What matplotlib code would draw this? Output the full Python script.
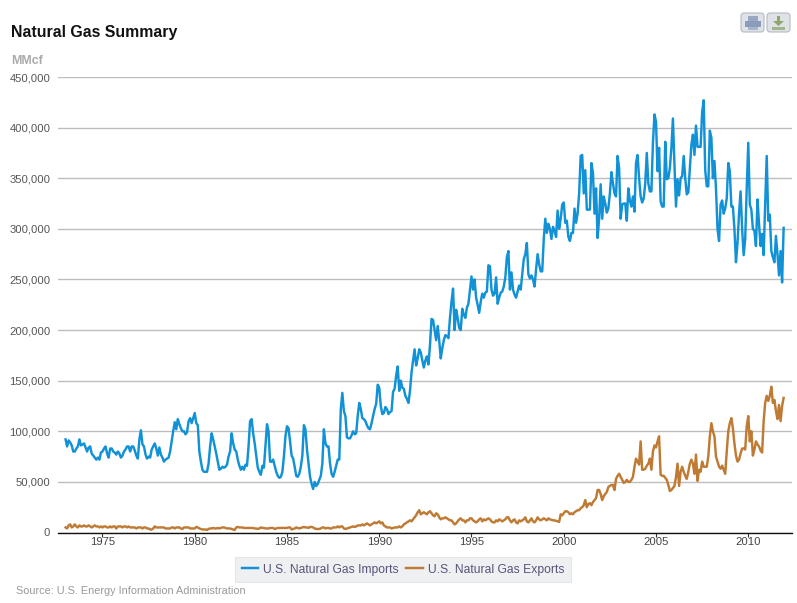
import numpy as np
import matplotlib
matplotlib.use("Agg")
import matplotlib.pyplot as plt
from matplotlib.patches import FancyBboxPatch, Rectangle

plt.rcParams['font.family'] = ['Liberation Sans', 'DejaVu Sans']

# monthly values, thousand MMcf, Jan 1973 - Dec 2011
imports = [
    92, 85, 91, 89, 86, 80, 80, 83, 85, 92, 86, 87,
    88, 84, 80, 84, 85, 78, 76, 74, 72, 74, 72, 79,
    80, 83, 85, 78, 74, 83, 83, 80, 79, 77, 80, 78,
    74, 76, 80, 82, 85, 85, 80, 85, 85, 81, 76, 73,
    92, 101, 87, 85, 77, 73, 75, 74, 82, 85, 88, 83,
    76, 84, 77, 74, 70, 72, 73, 74, 80, 90, 100, 109,
    102, 112, 107, 103, 100, 100, 97, 99, 110, 113, 108, 113,
    118, 108, 106, 80, 70, 62, 60, 60, 60, 68, 85, 98,
    92, 85, 78, 70, 62, 63, 65, 64, 65, 67, 75, 80,
    98, 88, 82, 80, 72, 66, 62, 65, 62, 67, 66, 85,
    110, 112, 98, 88, 76, 64, 60, 57, 66, 64, 85, 107,
    100, 70, 70, 72, 66, 60, 56, 54, 55, 60, 75, 95,
    105, 103, 90, 76, 73, 65, 56, 55, 58, 65, 76, 106,
    102, 82, 68, 55, 48, 43, 50, 46, 48, 52, 56, 68,
    102, 88, 85, 85, 68, 58, 55, 60, 66, 72, 72, 122,
    138, 120, 115, 94, 93, 93, 96, 100, 97, 98, 115, 128,
    122, 113, 112, 110, 106, 103, 102, 108, 115, 122, 127, 146,
    143, 125, 117, 118, 124, 122, 117, 119, 120, 139, 142, 155,
    164, 140, 150, 143, 142, 135, 132, 128, 140, 158, 170, 181,
    165, 172, 181, 178, 170, 163, 170, 174, 166, 185, 211, 210,
    200, 190, 204, 190, 172, 182, 190, 195, 194, 192, 212, 228,
    241, 200, 220, 212, 202, 200, 221, 215, 212, 222, 226, 240,
    253, 240, 250, 232, 225, 217, 228, 236, 232, 237, 238, 264,
    263, 240, 234, 236, 252, 226, 232, 237, 238, 243, 252, 272,
    278, 240, 257, 240, 235, 232, 238, 244, 240, 255, 270, 275,
    286, 255, 251, 254, 250, 243, 260, 275, 265, 258, 258, 290,
    310, 296, 305, 300, 290, 302, 298, 292, 318, 300, 310, 324,
    326, 306, 308, 292, 288, 296, 296, 320, 306, 315, 335, 372,
    373, 335, 358, 319, 319, 319, 365, 355, 315, 340, 291, 310,
    344, 310, 332, 325, 316, 320, 335, 356, 345, 335, 332, 372,
    360, 310, 324, 325, 325, 308, 340, 328, 322, 332, 317, 365,
    373, 350, 332, 326, 330, 345, 375, 345, 337, 337, 385, 413,
    406, 357, 380, 327, 322, 322, 386, 349, 350, 360, 380, 409,
    363, 322, 349, 333, 350, 352, 372, 350, 334, 336, 360, 383,
    393, 373, 402, 381, 381, 381, 415, 427, 358, 342, 342, 397,
    390, 350, 367, 340, 300, 288, 324, 328, 315, 320, 330, 365,
    357, 322, 322, 300, 267, 286, 315, 337, 300, 274, 290, 340,
    385, 324, 319, 300, 298, 283, 329, 305, 283, 295, 274, 325,
    372, 308, 314, 278, 272, 267, 293, 275, 254, 278, 247, 301,
]
exports = [
    5, 4, 7, 8, 5, 6, 8, 6, 5, 7, 6, 6,
    7, 6, 6, 7, 6, 5, 6, 7, 6, 6, 5, 6,
    5, 6, 6, 5, 5, 6, 5, 6, 6, 4, 6, 6,
    6, 5, 6, 6, 5, 6, 5, 5, 5, 5, 4, 5,
    5, 5, 4, 5, 5, 4, 4, 3, 3, 4, 6, 5,
    5, 5, 5, 5, 5, 4, 4, 4, 4, 5, 5, 4,
    5, 5, 5, 4, 3.5, 5, 5, 5, 5, 4, 4, 4,
    4, 5.5, 5, 4, 3.5, 3, 3, 3, 2.5, 3.5, 4, 4,
    4.5, 4, 4, 4.5, 4, 4.5, 5, 5, 4.5, 4, 4, 4,
    3.5, 3, 2.5, 5, 5.5, 5, 5, 5, 4.5, 4.5, 4.5, 4.5,
    4.5, 4.5, 4.5, 4, 4, 3.5, 4, 5, 4.5, 4.5, 4, 4,
    4, 4.5, 4.5, 4.5, 3.5, 4, 4.5, 4.5, 4.5, 4.5, 4.5, 4.5,
    4.5, 5, 5, 3, 3.5, 4, 5, 4.5, 4, 4.5, 5, 5.5,
    5, 5, 4.5, 5.5, 5.5, 5, 4, 3.5, 3.5, 3.5, 4, 5,
    5, 4, 4.5, 4.5, 4, 4, 5, 5, 5, 6, 5, 6,
    6, 4, 3.5, 4, 4.5, 5, 5.5, 6, 5.5, 6, 7, 7,
    7, 8, 7, 8, 9, 8, 7, 8, 9, 10, 9, 10,
    11, 9, 10, 7, 6, 5, 5, 5, 4, 4.5, 5, 5,
    5, 6, 5, 6, 8, 9, 10, 11, 12, 11, 13, 15,
    17, 20, 22, 18, 19, 20, 19, 18, 20, 21, 19, 17,
    16, 19, 18, 15, 13, 14, 14, 15, 14, 13, 12, 12,
    10, 8, 9, 11, 13, 14, 12, 12, 10, 12, 12, 14,
    14, 12, 11, 10, 11, 13, 14, 11, 13, 12, 13, 14,
    13, 11, 10, 10, 12, 11, 13, 12, 11, 12, 13, 15,
    15, 12, 10, 12, 13, 10, 9, 12, 11, 12, 13, 15,
    11, 10, 12, 14, 11, 10, 12, 15, 13, 12, 13, 14,
    13, 12, 14, 13, 12.5, 12, 12, 11.5, 11, 10.5, 18, 17,
    19, 21, 21, 20, 18, 19, 18, 20, 21, 22, 22, 24,
    25, 27, 32, 25, 28, 29, 27, 30, 32, 34, 42, 42,
    38, 32, 36, 38, 40, 45, 46, 47, 47, 42, 53, 56,
    58, 55, 52, 49, 50, 52, 50, 50, 52, 55, 65, 73,
    70, 67, 90, 62, 62, 63, 66, 68, 73, 62, 80, 86,
    84, 90, 95, 57, 56, 56, 54, 52, 47, 41, 42, 44,
    46, 55, 68, 46, 60, 65, 60, 56, 53, 60, 68, 72,
    68, 58, 77, 51, 62, 60, 70, 65, 65, 65, 75, 95,
    108, 100, 95, 75, 70, 65, 63, 66, 62, 58, 80, 100,
    108, 113, 103, 88, 76, 70, 72, 78, 83, 83, 82, 105,
    115, 90, 100, 76, 82, 90, 87, 85, 81, 79, 110, 128,
    135, 130, 135, 144, 128, 131, 120, 112, 126, 110, 125, 133,
]
year_ticks = [1975, 1980, 1985, 1990, 1995, 2000, 2005, 2010]
value_ticks = [0, 50000, 100000, 150000, 200000, 250000, 300000, 350000, 400000, 450000]

W, H = 797, 603
fig = plt.figure(figsize=(W / 100, H / 100), dpi=100, facecolor="white")
ax = fig.add_axes([58 / W, 1 - 532.5 / H, (792 - 58) / W, (532.5 - 77) / H])

t = 1973 + np.arange(len(imports)) / 12
line_imp, = ax.plot(t, np.array(imports) * 1000, color="#1192d6", lw=1.75, solid_joinstyle="round",
                    label="U.S. Natural Gas Imports", zorder=3, clip_on=False)
line_exp, = ax.plot(t, np.array(exports) * 1000, color="#bf7a33", lw=1.75, solid_joinstyle="round",
                    label="U.S. Natural Gas Exports", zorder=4, clip_on=False)

ax.set_xlim(1972.59, 2012.37)
ax.set_ylim(0, 450000)
ax.set_xticks(year_ticks)
ax.set_yticks(value_ticks)
ax.set_yticklabels([f"{v:,}" for v in value_ticks])
ax.grid(axis="y", color="#bdbdbd", lw=1)
ax.set_axisbelow(True)
for side in ["top", "right", "left"]:
    ax.spines[side].set_visible(False)
ax.spines["bottom"].set_color("#111111")
ax.spines["bottom"].set_linewidth(1)
ax.tick_params(axis="y", length=0, pad=5.5, labelsize=8.1, labelcolor="#555555")
ax.tick_params(axis="x", length=3, width=0.8, color="#333333", pad=0, labelsize=8.1, labelcolor="#444444")

# overlay in pixel coordinates for the page furniture
page = fig.add_axes([0, 0, 1, 1], zorder=-1)
page.set_xlim(0, W)
page.set_ylim(H, 0)
page.axis("off")
page.text(11, 32, "Natural Gas Summary", fontsize=11.4, fontweight="bold", color="#111111", va="center")
page.text(11, 60.5, "MMcf", fontsize=8.9, fontweight="bold", color="#aaaaaa", va="center")
page.text(16, 591, "Source: U.S. Energy Information Administration", fontsize=7.8, color="#999999", va="center")

leg = fig.legend(handles=[line_imp, line_exp], ncol=2, loc="center",
                 bbox_to_anchor=(403 / W, 1 - 569.5 / H), fontsize=8.7, frameon=True, fancybox=False,
                 facecolor="#eef0f2", edgecolor="#e4e6e8", framealpha=1, handlelength=1.4,
                 handletextpad=0.4, columnspacing=0.6, borderpad=0.55, labelcolor="#55557a")
leg.get_frame().set_linewidth(0.8)

# print and download buttons
for x0 in [741, 767]:
    page.add_patch(FancyBboxPatch((x0 + 2, 15), 19, 15, boxstyle="round,pad=2,rounding_size=3",
                                  fc="#dfe2e7", ec="#b5bac2", lw=0.8))
page.add_patch(Rectangle((748, 16), 10, 5, fc="#98a8c2", ec="none"))
page.add_patch(Rectangle((745, 21), 16, 6, fc="#8a9cba", ec="none"))
page.add_patch(Rectangle((748, 27), 10, 2.5, fc="#a8b6cc", ec="none"))
page.add_patch(Rectangle((777, 16), 3, 6, fc="#8fa76f", ec="none"))
page.fill([773, 784, 778.5], [21, 21, 26], color="#8fa76f", lw=0)
page.add_patch(Rectangle((772, 27), 13, 2.5, fc="#a3b58a", ec="none"))

fig.savefig("out.png", dpi=100)
